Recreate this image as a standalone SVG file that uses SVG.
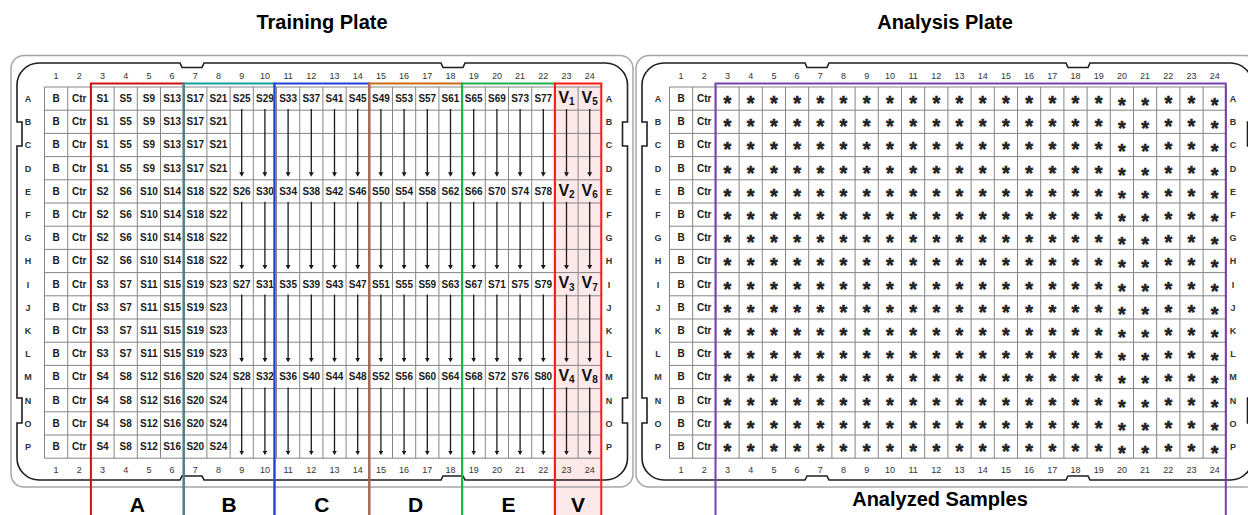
<svg xmlns="http://www.w3.org/2000/svg" xmlns:xlink="http://www.w3.org/1999/xlink" width="1248" height="515" viewBox="0 0 1248 515">
<style>
text{font-family:"Liberation Sans",Arial,Helvetica,sans-serif}
.title{font-size:20px;font-weight:bold;text-anchor:middle;fill:#000}
.cell{font-size:10px;font-weight:bold;text-anchor:middle;fill:#1a1a1a}
.num{font-size:9px;text-anchor:middle;fill:#333}
.rl{font-size:9px;font-weight:bold;text-anchor:middle;fill:#333}
.v{font-size:16px;font-weight:bold;text-anchor:middle;fill:#111}
.ast{font-size:20px;font-weight:bold;text-anchor:middle;fill:#222;stroke:#222;stroke-width:0.5}
.grp{font-size:21px;font-weight:bold;text-anchor:middle;fill:#000}
.grid{fill:none;stroke:#858585;stroke-width:1}
.outer{fill:none;stroke:#a6a6a6;stroke-width:1.5}
.inner{fill:none;stroke:#1e1e1e;stroke-width:1.6}
.box{fill:none;stroke-width:2}
.arr{fill:none;stroke:#1a1a1a;stroke-width:1.3;marker-end:url(#ah)}
</style>
<defs>
<marker id="ah" viewBox="0 0 10 10" refX="7" refY="5" markerWidth="4.5" markerHeight="5" markerUnits="userSpaceOnUse" orient="auto" preserveAspectRatio="none"><path d="M0,0L10,5L0,10Z" fill="#1a1a1a"/></marker>
<path id="gridp" class="grid" d="M44.5 87H601.3M44.5 110.2H601.3M44.5 133.4H601.3M44.5 156.6H601.3M44.5 179.8H601.3M44.5 203H601.3M44.5 226.2H601.3M44.5 249.4H601.3M44.5 272.6H601.3M44.5 295.8H601.3M44.5 319H601.3M44.5 342.2H601.3M44.5 365.4H601.3M44.5 388.6H601.3M44.5 411.8H601.3M44.5 435H601.3M44.5 458.2H601.3M44.5 87V458.2M67.7 87V458.2M90.9 87V458.2M114.1 87V458.2M137.3 87V458.2M160.5 87V458.2M183.7 87V458.2M206.9 87V458.2M230.1 87V458.2M253.3 87V458.2M276.5 87V458.2M299.7 87V458.2M322.9 87V458.2M346.1 87V458.2M369.3 87V458.2M392.5 87V458.2M415.7 87V458.2M438.9 87V458.2M462.1 87V458.2M485.3 87V458.2M508.5 87V458.2M531.7 87V458.2M554.9 87V458.2M578.1 87V458.2M601.3 87V458.2"/>
<path id="plateIn" class="inner" d="M39,63H180L182,67.5H202L204,63H441L443,67.5H463L465,63H605.5A22,22 0 0 1 627.5,85V122H622.5V146H627.5V398H622.5V423H627.5V458A22,22 0 0 1 605.5,480H465L463,476H443L441,480H204L202,476H182L180,480H39A22,22 0 0 1 17,458V423H22V398H17V146H22V122H17V85A22,22 0 0 1 39,63Z"/>
<rect id="plateOut" class="outer" x="11" y="55.5" width="622" height="431.5" rx="13"/>
</defs>

<g id="title-training"><text class="title" x="322" y="29">Training Plate</text></g>
<g id="title-analysis"><text class="title" x="945" y="29">Analysis Plate</text></g>

<rect id="v-fill" x="554.9" y="83.5" width="46.4" height="432" fill="#fde9e9"/>

<g id="training-plate">
<use href="#plateOut"/>
<use href="#plateIn"/>
<use href="#gridp"/>
<text class="num" y="78.5"><tspan x="56.1">1</tspan><tspan x="79.3">2</tspan><tspan x="102.5">3</tspan><tspan x="125.7">4</tspan><tspan x="148.9">5</tspan><tspan x="172.1">6</tspan><tspan x="195.3">7</tspan><tspan x="218.5">8</tspan><tspan x="241.7">9</tspan><tspan x="264.9">10</tspan><tspan x="288.1">11</tspan><tspan x="311.3">12</tspan><tspan x="334.5">13</tspan><tspan x="357.7">14</tspan><tspan x="380.9">15</tspan><tspan x="404.1">16</tspan><tspan x="427.3">17</tspan><tspan x="450.5">18</tspan><tspan x="473.7">19</tspan><tspan x="496.9">20</tspan><tspan x="520.1">21</tspan><tspan x="543.3">22</tspan><tspan x="566.5">23</tspan><tspan x="589.7">24</tspan></text>
<text class="num" y="472.5"><tspan x="56.1">1</tspan><tspan x="79.3">2</tspan><tspan x="102.5">3</tspan><tspan x="125.7">4</tspan><tspan x="148.9">5</tspan><tspan x="172.1">6</tspan><tspan x="195.3">7</tspan><tspan x="218.5">8</tspan><tspan x="241.7">9</tspan><tspan x="264.9">10</tspan><tspan x="288.1">11</tspan><tspan x="311.3">12</tspan><tspan x="334.5">13</tspan><tspan x="357.7">14</tspan><tspan x="380.9">15</tspan><tspan x="404.1">16</tspan><tspan x="427.3">17</tspan><tspan x="450.5">18</tspan><tspan x="473.7">19</tspan><tspan x="496.9">20</tspan><tspan x="520.1">21</tspan><tspan x="543.3">22</tspan><tspan x="566.5">23</tspan><tspan x="589.7">24</tspan></text>
<text class="rl"><tspan x="28" y="102">A</tspan><tspan x="28" y="125.2">B</tspan><tspan x="28" y="148.4">C</tspan><tspan x="28" y="171.6">D</tspan><tspan x="28" y="194.8">E</tspan><tspan x="28" y="218">F</tspan><tspan x="28" y="241.2">G</tspan><tspan x="28" y="264.4">H</tspan><tspan x="28" y="287.6">I</tspan><tspan x="28" y="310.8">J</tspan><tspan x="28" y="334">K</tspan><tspan x="28" y="357.2">L</tspan><tspan x="28" y="380.4">M</tspan><tspan x="28" y="403.6">N</tspan><tspan x="28" y="426.8">O</tspan><tspan x="28" y="450">P</tspan></text>
<text class="rl"><tspan x="609" y="102">A</tspan><tspan x="609" y="125.2">B</tspan><tspan x="609" y="148.4">C</tspan><tspan x="609" y="171.6">D</tspan><tspan x="609" y="194.8">E</tspan><tspan x="609" y="218">F</tspan><tspan x="609" y="241.2">G</tspan><tspan x="609" y="264.4">H</tspan><tspan x="609" y="287.6">I</tspan><tspan x="609" y="310.8">J</tspan><tspan x="609" y="334">K</tspan><tspan x="609" y="357.2">L</tspan><tspan x="609" y="380.4">M</tspan><tspan x="609" y="403.6">N</tspan><tspan x="609" y="426.8">O</tspan><tspan x="609" y="450">P</tspan></text>
<text class="cell" y="102"><tspan x="56.1">B</tspan><tspan x="79.3">Ctr</tspan><tspan x="102.5">S1</tspan><tspan x="125.7">S5</tspan><tspan x="148.9">S9</tspan><tspan x="172.1">S13</tspan><tspan x="195.3">S17</tspan><tspan x="218.5">S21</tspan><tspan x="241.7">S25</tspan><tspan x="264.9">S29</tspan><tspan x="288.1">S33</tspan><tspan x="311.3">S37</tspan><tspan x="334.5">S41</tspan><tspan x="357.7">S45</tspan><tspan x="380.9">S49</tspan><tspan x="404.1">S53</tspan><tspan x="427.3">S57</tspan><tspan x="450.5">S61</tspan><tspan x="473.7">S65</tspan><tspan x="496.9">S69</tspan><tspan x="520.1">S73</tspan><tspan x="543.3">S77</tspan></text>
<text class="cell" y="125.2"><tspan x="56.1">B</tspan><tspan x="79.3">Ctr</tspan><tspan x="102.5">S1</tspan><tspan x="125.7">S5</tspan><tspan x="148.9">S9</tspan><tspan x="172.1">S13</tspan><tspan x="195.3">S17</tspan><tspan x="218.5">S21</tspan></text>
<text class="cell" y="148.4"><tspan x="56.1">B</tspan><tspan x="79.3">Ctr</tspan><tspan x="102.5">S1</tspan><tspan x="125.7">S5</tspan><tspan x="148.9">S9</tspan><tspan x="172.1">S13</tspan><tspan x="195.3">S17</tspan><tspan x="218.5">S21</tspan></text>
<text class="cell" y="171.6"><tspan x="56.1">B</tspan><tspan x="79.3">Ctr</tspan><tspan x="102.5">S1</tspan><tspan x="125.7">S5</tspan><tspan x="148.9">S9</tspan><tspan x="172.1">S13</tspan><tspan x="195.3">S17</tspan><tspan x="218.5">S21</tspan></text>
<text class="cell" y="194.8"><tspan x="56.1">B</tspan><tspan x="79.3">Ctr</tspan><tspan x="102.5">S2</tspan><tspan x="125.7">S6</tspan><tspan x="148.9">S10</tspan><tspan x="172.1">S14</tspan><tspan x="195.3">S18</tspan><tspan x="218.5">S22</tspan><tspan x="241.7">S26</tspan><tspan x="264.9">S30</tspan><tspan x="288.1">S34</tspan><tspan x="311.3">S38</tspan><tspan x="334.5">S42</tspan><tspan x="357.7">S46</tspan><tspan x="380.9">S50</tspan><tspan x="404.1">S54</tspan><tspan x="427.3">S58</tspan><tspan x="450.5">S62</tspan><tspan x="473.7">S66</tspan><tspan x="496.9">S70</tspan><tspan x="520.1">S74</tspan><tspan x="543.3">S78</tspan></text>
<text class="cell" y="218"><tspan x="56.1">B</tspan><tspan x="79.3">Ctr</tspan><tspan x="102.5">S2</tspan><tspan x="125.7">S6</tspan><tspan x="148.9">S10</tspan><tspan x="172.1">S14</tspan><tspan x="195.3">S18</tspan><tspan x="218.5">S22</tspan></text>
<text class="cell" y="241.2"><tspan x="56.1">B</tspan><tspan x="79.3">Ctr</tspan><tspan x="102.5">S2</tspan><tspan x="125.7">S6</tspan><tspan x="148.9">S10</tspan><tspan x="172.1">S14</tspan><tspan x="195.3">S18</tspan><tspan x="218.5">S22</tspan></text>
<text class="cell" y="264.4"><tspan x="56.1">B</tspan><tspan x="79.3">Ctr</tspan><tspan x="102.5">S2</tspan><tspan x="125.7">S6</tspan><tspan x="148.9">S10</tspan><tspan x="172.1">S14</tspan><tspan x="195.3">S18</tspan><tspan x="218.5">S22</tspan></text>
<text class="cell" y="287.6"><tspan x="56.1">B</tspan><tspan x="79.3">Ctr</tspan><tspan x="102.5">S3</tspan><tspan x="125.7">S7</tspan><tspan x="148.9">S11</tspan><tspan x="172.1">S15</tspan><tspan x="195.3">S19</tspan><tspan x="218.5">S23</tspan><tspan x="241.7">S27</tspan><tspan x="264.9">S31</tspan><tspan x="288.1">S35</tspan><tspan x="311.3">S39</tspan><tspan x="334.5">S43</tspan><tspan x="357.7">S47</tspan><tspan x="380.9">S51</tspan><tspan x="404.1">S55</tspan><tspan x="427.3">S59</tspan><tspan x="450.5">S63</tspan><tspan x="473.7">S67</tspan><tspan x="496.9">S71</tspan><tspan x="520.1">S75</tspan><tspan x="543.3">S79</tspan></text>
<text class="cell" y="310.8"><tspan x="56.1">B</tspan><tspan x="79.3">Ctr</tspan><tspan x="102.5">S3</tspan><tspan x="125.7">S7</tspan><tspan x="148.9">S11</tspan><tspan x="172.1">S15</tspan><tspan x="195.3">S19</tspan><tspan x="218.5">S23</tspan></text>
<text class="cell" y="334"><tspan x="56.1">B</tspan><tspan x="79.3">Ctr</tspan><tspan x="102.5">S3</tspan><tspan x="125.7">S7</tspan><tspan x="148.9">S11</tspan><tspan x="172.1">S15</tspan><tspan x="195.3">S19</tspan><tspan x="218.5">S23</tspan></text>
<text class="cell" y="357.2"><tspan x="56.1">B</tspan><tspan x="79.3">Ctr</tspan><tspan x="102.5">S3</tspan><tspan x="125.7">S7</tspan><tspan x="148.9">S11</tspan><tspan x="172.1">S15</tspan><tspan x="195.3">S19</tspan><tspan x="218.5">S23</tspan></text>
<text class="cell" y="380.4"><tspan x="56.1">B</tspan><tspan x="79.3">Ctr</tspan><tspan x="102.5">S4</tspan><tspan x="125.7">S8</tspan><tspan x="148.9">S12</tspan><tspan x="172.1">S16</tspan><tspan x="195.3">S20</tspan><tspan x="218.5">S24</tspan><tspan x="241.7">S28</tspan><tspan x="264.9">S32</tspan><tspan x="288.1">S36</tspan><tspan x="311.3">S40</tspan><tspan x="334.5">S44</tspan><tspan x="357.7">S48</tspan><tspan x="380.9">S52</tspan><tspan x="404.1">S56</tspan><tspan x="427.3">S60</tspan><tspan x="450.5">S64</tspan><tspan x="473.7">S68</tspan><tspan x="496.9">S72</tspan><tspan x="520.1">S76</tspan><tspan x="543.3">S80</tspan></text>
<text class="cell" y="403.6"><tspan x="56.1">B</tspan><tspan x="79.3">Ctr</tspan><tspan x="102.5">S4</tspan><tspan x="125.7">S8</tspan><tspan x="148.9">S12</tspan><tspan x="172.1">S16</tspan><tspan x="195.3">S20</tspan><tspan x="218.5">S24</tspan></text>
<text class="cell" y="426.8"><tspan x="56.1">B</tspan><tspan x="79.3">Ctr</tspan><tspan x="102.5">S4</tspan><tspan x="125.7">S8</tspan><tspan x="148.9">S12</tspan><tspan x="172.1">S16</tspan><tspan x="195.3">S20</tspan><tspan x="218.5">S24</tspan></text>
<text class="cell" y="450"><tspan x="56.1">B</tspan><tspan x="79.3">Ctr</tspan><tspan x="102.5">S4</tspan><tspan x="125.7">S8</tspan><tspan x="148.9">S12</tspan><tspan x="172.1">S16</tspan><tspan x="195.3">S20</tspan><tspan x="218.5">S24</tspan></text>
<text class="v" x="566.5" y="102.7">V<tspan font-size="10" dy="2.3">1</tspan></text>
<text class="v" x="589.7" y="102.7">V<tspan font-size="10" dy="2.3">5</tspan></text>
<text class="v" x="566.5" y="195.5">V<tspan font-size="10" dy="2.3">2</tspan></text>
<text class="v" x="589.7" y="195.5">V<tspan font-size="10" dy="2.3">6</tspan></text>
<text class="v" x="566.5" y="288.3">V<tspan font-size="10" dy="2.3">3</tspan></text>
<text class="v" x="589.7" y="288.3">V<tspan font-size="10" dy="2.3">7</tspan></text>
<text class="v" x="566.5" y="381.1">V<tspan font-size="10" dy="2.3">4</tspan></text>
<text class="v" x="589.7" y="381.1">V<tspan font-size="10" dy="2.3">8</tspan></text>
</g>

<g id="analysis-plate">
<use href="#plateOut" x="625"/>
<use href="#plateIn" x="625"/>
<use href="#gridp" x="625"/>
<text class="num" y="78.5"><tspan x="681.1">1</tspan><tspan x="704.3">2</tspan><tspan x="727.5">3</tspan><tspan x="750.7">4</tspan><tspan x="773.9">5</tspan><tspan x="797.1">6</tspan><tspan x="820.3">7</tspan><tspan x="843.5">8</tspan><tspan x="866.7">9</tspan><tspan x="889.9">10</tspan><tspan x="913.1">11</tspan><tspan x="936.3">12</tspan><tspan x="959.5">13</tspan><tspan x="982.7">14</tspan><tspan x="1005.9">15</tspan><tspan x="1029.1">16</tspan><tspan x="1052.3">17</tspan><tspan x="1075.5">18</tspan><tspan x="1098.7">19</tspan><tspan x="1121.9">20</tspan><tspan x="1145.1">21</tspan><tspan x="1168.3">22</tspan><tspan x="1191.5">23</tspan><tspan x="1214.7">24</tspan></text>
<text class="num" y="472.5"><tspan x="681.1">1</tspan><tspan x="704.3">2</tspan><tspan x="727.5">3</tspan><tspan x="750.7">4</tspan><tspan x="773.9">5</tspan><tspan x="797.1">6</tspan><tspan x="820.3">7</tspan><tspan x="843.5">8</tspan><tspan x="866.7">9</tspan><tspan x="889.9">10</tspan><tspan x="913.1">11</tspan><tspan x="936.3">12</tspan><tspan x="959.5">13</tspan><tspan x="982.7">14</tspan><tspan x="1005.9">15</tspan><tspan x="1029.1">16</tspan><tspan x="1052.3">17</tspan><tspan x="1075.5">18</tspan><tspan x="1098.7">19</tspan><tspan x="1121.9">20</tspan><tspan x="1145.1">21</tspan><tspan x="1168.3">22</tspan><tspan x="1191.5">23</tspan><tspan x="1214.7">24</tspan></text>
<text class="rl"><tspan x="658" y="102">A</tspan><tspan x="658" y="125.2">B</tspan><tspan x="658" y="148.4">C</tspan><tspan x="658" y="171.6">D</tspan><tspan x="658" y="194.8">E</tspan><tspan x="658" y="218">F</tspan><tspan x="658" y="241.2">G</tspan><tspan x="658" y="264.4">H</tspan><tspan x="658" y="287.6">I</tspan><tspan x="658" y="310.8">J</tspan><tspan x="658" y="334">K</tspan><tspan x="658" y="357.2">L</tspan><tspan x="658" y="380.4">M</tspan><tspan x="658" y="403.6">N</tspan><tspan x="658" y="426.8">O</tspan><tspan x="658" y="450">P</tspan></text>
<text class="rl"><tspan x="1233" y="102">A</tspan><tspan x="1233" y="125.2">B</tspan><tspan x="1233" y="148.4">C</tspan><tspan x="1233" y="171.6">D</tspan><tspan x="1233" y="194.8">E</tspan><tspan x="1233" y="218">F</tspan><tspan x="1233" y="241.2">G</tspan><tspan x="1233" y="264.4">H</tspan><tspan x="1233" y="287.6">I</tspan><tspan x="1233" y="310.8">J</tspan><tspan x="1233" y="334">K</tspan><tspan x="1233" y="357.2">L</tspan><tspan x="1233" y="380.4">M</tspan><tspan x="1233" y="403.6">N</tspan><tspan x="1233" y="426.8">O</tspan><tspan x="1233" y="450">P</tspan></text>
<text class="cell" y="102"><tspan x="681.1">B</tspan><tspan x="704.3">Ctr</tspan></text>
<text class="cell" y="125.2"><tspan x="681.1">B</tspan><tspan x="704.3">Ctr</tspan></text>
<text class="cell" y="148.4"><tspan x="681.1">B</tspan><tspan x="704.3">Ctr</tspan></text>
<text class="cell" y="171.6"><tspan x="681.1">B</tspan><tspan x="704.3">Ctr</tspan></text>
<text class="cell" y="194.8"><tspan x="681.1">B</tspan><tspan x="704.3">Ctr</tspan></text>
<text class="cell" y="218"><tspan x="681.1">B</tspan><tspan x="704.3">Ctr</tspan></text>
<text class="cell" y="241.2"><tspan x="681.1">B</tspan><tspan x="704.3">Ctr</tspan></text>
<text class="cell" y="264.4"><tspan x="681.1">B</tspan><tspan x="704.3">Ctr</tspan></text>
<text class="cell" y="287.6"><tspan x="681.1">B</tspan><tspan x="704.3">Ctr</tspan></text>
<text class="cell" y="310.8"><tspan x="681.1">B</tspan><tspan x="704.3">Ctr</tspan></text>
<text class="cell" y="334"><tspan x="681.1">B</tspan><tspan x="704.3">Ctr</tspan></text>
<text class="cell" y="357.2"><tspan x="681.1">B</tspan><tspan x="704.3">Ctr</tspan></text>
<text class="cell" y="380.4"><tspan x="681.1">B</tspan><tspan x="704.3">Ctr</tspan></text>
<text class="cell" y="403.6"><tspan x="681.1">B</tspan><tspan x="704.3">Ctr</tspan></text>
<text class="cell" y="426.8"><tspan x="681.1">B</tspan><tspan x="704.3">Ctr</tspan></text>
<text class="cell" y="450"><tspan x="681.1">B</tspan><tspan x="704.3">Ctr</tspan></text>
<text class="ast" x="727.5 750.7 773.9 797.1 820.3 843.5 866.7 889.9 913.1 936.3 959.5 982.7 1005.9 1029.1 1052.3 1075.5 1098.7 1121.9 1145.1 1168.3 1191.5 1214.7" y="110" dy="0 0 0 0 0 0 0 0 0 0 0 0 0 0 0 0 0 2 0 -2 0 2">**********************</text>
<text class="ast" x="727.5 750.7 773.9 797.1 820.3 843.5 866.7 889.9 913.1 936.3 959.5 982.7 1005.9 1029.1 1052.3 1075.5 1098.7 1121.9 1145.1 1168.3 1191.5 1214.7" y="133.2" dy="0 0 0 0 0 0 0 0 0 0 0 0 0 0 0 0 0 2 0 -2 0 2">**********************</text>
<text class="ast" x="727.5 750.7 773.9 797.1 820.3 843.5 866.7 889.9 913.1 936.3 959.5 982.7 1005.9 1029.1 1052.3 1075.5 1098.7 1121.9 1145.1 1168.3 1191.5 1214.7" y="156.4" dy="0 0 0 0 0 0 0 0 0 0 0 0 0 0 0 0 0 2 0 -2 0 2">**********************</text>
<text class="ast" x="727.5 750.7 773.9 797.1 820.3 843.5 866.7 889.9 913.1 936.3 959.5 982.7 1005.9 1029.1 1052.3 1075.5 1098.7 1121.9 1145.1 1168.3 1191.5 1214.7" y="179.6" dy="0 0 0 0 0 0 0 0 0 0 0 0 0 0 0 0 0 2 0 -2 0 2">**********************</text>
<text class="ast" x="727.5 750.7 773.9 797.1 820.3 843.5 866.7 889.9 913.1 936.3 959.5 982.7 1005.9 1029.1 1052.3 1075.5 1098.7 1121.9 1145.1 1168.3 1191.5 1214.7" y="202.8" dy="0 0 0 0 0 0 0 0 0 0 0 0 0 0 0 0 0 2 0 -2 0 2">**********************</text>
<text class="ast" x="727.5 750.7 773.9 797.1 820.3 843.5 866.7 889.9 913.1 936.3 959.5 982.7 1005.9 1029.1 1052.3 1075.5 1098.7 1121.9 1145.1 1168.3 1191.5 1214.7" y="226" dy="0 0 0 0 0 0 0 0 0 0 0 0 0 0 0 0 0 2 0 -2 0 2">**********************</text>
<text class="ast" x="727.5 750.7 773.9 797.1 820.3 843.5 866.7 889.9 913.1 936.3 959.5 982.7 1005.9 1029.1 1052.3 1075.5 1098.7 1121.9 1145.1 1168.3 1191.5 1214.7" y="249.2" dy="0 0 0 0 0 0 0 0 0 0 0 0 0 0 0 0 0 2 0 -2 0 2">**********************</text>
<text class="ast" x="727.5 750.7 773.9 797.1 820.3 843.5 866.7 889.9 913.1 936.3 959.5 982.7 1005.9 1029.1 1052.3 1075.5 1098.7 1121.9 1145.1 1168.3 1191.5 1214.7" y="272.4" dy="0 0 0 0 0 0 0 0 0 0 0 0 0 0 0 0 0 2 0 -2 0 2">**********************</text>
<text class="ast" x="727.5 750.7 773.9 797.1 820.3 843.5 866.7 889.9 913.1 936.3 959.5 982.7 1005.9 1029.1 1052.3 1075.5 1098.7 1121.9 1145.1 1168.3 1191.5 1214.7" y="295.6" dy="0 0 0 0 0 0 0 0 0 0 0 0 0 0 0 0 0 2 0 -2 0 2">**********************</text>
<text class="ast" x="727.5 750.7 773.9 797.1 820.3 843.5 866.7 889.9 913.1 936.3 959.5 982.7 1005.9 1029.1 1052.3 1075.5 1098.7 1121.9 1145.1 1168.3 1191.5 1214.7" y="318.8" dy="0 0 0 0 0 0 0 0 0 0 0 0 0 0 0 0 0 2 0 -2 0 2">**********************</text>
<text class="ast" x="727.5 750.7 773.9 797.1 820.3 843.5 866.7 889.9 913.1 936.3 959.5 982.7 1005.9 1029.1 1052.3 1075.5 1098.7 1121.9 1145.1 1168.3 1191.5 1214.7" y="342" dy="0 0 0 0 0 0 0 0 0 0 0 0 0 0 0 0 0 2 0 -2 0 2">**********************</text>
<text class="ast" x="727.5 750.7 773.9 797.1 820.3 843.5 866.7 889.9 913.1 936.3 959.5 982.7 1005.9 1029.1 1052.3 1075.5 1098.7 1121.9 1145.1 1168.3 1191.5 1214.7" y="365.2" dy="0 0 0 0 0 0 0 0 0 0 0 0 0 0 0 0 0 2 0 -2 0 2">**********************</text>
<text class="ast" x="727.5 750.7 773.9 797.1 820.3 843.5 866.7 889.9 913.1 936.3 959.5 982.7 1005.9 1029.1 1052.3 1075.5 1098.7 1121.9 1145.1 1168.3 1191.5 1214.7" y="388.4" dy="0 0 0 0 0 0 0 0 0 0 0 0 0 0 0 0 0 2 0 -2 0 2">**********************</text>
<text class="ast" x="727.5 750.7 773.9 797.1 820.3 843.5 866.7 889.9 913.1 936.3 959.5 982.7 1005.9 1029.1 1052.3 1075.5 1098.7 1121.9 1145.1 1168.3 1191.5 1214.7" y="411.6" dy="0 0 0 0 0 0 0 0 0 0 0 0 0 0 0 0 0 2 0 -2 0 2">**********************</text>
<text class="ast" x="727.5 750.7 773.9 797.1 820.3 843.5 866.7 889.9 913.1 936.3 959.5 982.7 1005.9 1029.1 1052.3 1075.5 1098.7 1121.9 1145.1 1168.3 1191.5 1214.7" y="434.8" dy="0 0 0 0 0 0 0 0 0 0 0 0 0 0 0 0 0 2 0 -2 0 2">**********************</text>
<text class="ast" x="727.5 750.7 773.9 797.1 820.3 843.5 866.7 889.9 913.1 936.3 959.5 982.7 1005.9 1029.1 1052.3 1075.5 1098.7 1121.9 1145.1 1168.3 1191.5 1214.7" y="458" dy="0 0 0 0 0 0 0 0 0 0 0 0 0 0 0 0 0 2 0 -2 0 2">**********************</text>
</g>

<g id="connectors">
<path class="arr" d="M241.7 109V175.3"/><path class="arr" d="M264.9 109V175.3"/><path class="arr" d="M288.1 109V175.3"/><path class="arr" d="M311.3 109V175.3"/><path class="arr" d="M334.5 109V175.3"/><path class="arr" d="M357.7 109V175.3"/><path class="arr" d="M380.9 109V175.3"/><path class="arr" d="M404.1 109V175.3"/><path class="arr" d="M427.3 109V175.3"/><path class="arr" d="M450.5 109V175.3"/><path class="arr" d="M473.7 109V175.3"/><path class="arr" d="M496.9 109V175.3"/><path class="arr" d="M520.1 109V175.3"/><path class="arr" d="M543.3 109V175.3"/><path class="arr" d="M566.5 109V175.3"/><path class="arr" d="M589.7 109V175.3"/>
<path class="arr" d="M241.7 201.8V268.1"/><path class="arr" d="M264.9 201.8V268.1"/><path class="arr" d="M288.1 201.8V268.1"/><path class="arr" d="M311.3 201.8V268.1"/><path class="arr" d="M334.5 201.8V268.1"/><path class="arr" d="M357.7 201.8V268.1"/><path class="arr" d="M380.9 201.8V268.1"/><path class="arr" d="M404.1 201.8V268.1"/><path class="arr" d="M427.3 201.8V268.1"/><path class="arr" d="M450.5 201.8V268.1"/><path class="arr" d="M473.7 201.8V268.1"/><path class="arr" d="M496.9 201.8V268.1"/><path class="arr" d="M520.1 201.8V268.1"/><path class="arr" d="M543.3 201.8V268.1"/><path class="arr" d="M566.5 201.8V268.1"/><path class="arr" d="M589.7 201.8V268.1"/>
<path class="arr" d="M241.7 294.6V360.9"/><path class="arr" d="M264.9 294.6V360.9"/><path class="arr" d="M288.1 294.6V360.9"/><path class="arr" d="M311.3 294.6V360.9"/><path class="arr" d="M334.5 294.6V360.9"/><path class="arr" d="M357.7 294.6V360.9"/><path class="arr" d="M380.9 294.6V360.9"/><path class="arr" d="M404.1 294.6V360.9"/><path class="arr" d="M427.3 294.6V360.9"/><path class="arr" d="M450.5 294.6V360.9"/><path class="arr" d="M473.7 294.6V360.9"/><path class="arr" d="M496.9 294.6V360.9"/><path class="arr" d="M520.1 294.6V360.9"/><path class="arr" d="M543.3 294.6V360.9"/><path class="arr" d="M566.5 294.6V360.9"/><path class="arr" d="M589.7 294.6V360.9"/>
<path class="arr" d="M241.7 387.4V453.7"/><path class="arr" d="M264.9 387.4V453.7"/><path class="arr" d="M288.1 387.4V453.7"/><path class="arr" d="M311.3 387.4V453.7"/><path class="arr" d="M334.5 387.4V453.7"/><path class="arr" d="M357.7 387.4V453.7"/><path class="arr" d="M380.9 387.4V453.7"/><path class="arr" d="M404.1 387.4V453.7"/><path class="arr" d="M427.3 387.4V453.7"/><path class="arr" d="M450.5 387.4V453.7"/><path class="arr" d="M473.7 387.4V453.7"/><path class="arr" d="M496.9 387.4V453.7"/><path class="arr" d="M520.1 387.4V453.7"/><path class="arr" d="M543.3 387.4V453.7"/><path class="arr" d="M566.5 387.4V453.7"/><path class="arr" d="M589.7 387.4V453.7"/>
</g>

<g id="group-A"><path class="box" stroke="#cc1111" d="M90.9,516V83.5H183.7V516"/><text class="grp" x="137.3" y="511.5">A</text></g>
<g id="group-B"><path class="box" stroke="#179c9c" d="M183.7,516V83.5H274.5V516"/><text class="grp" x="229.1" y="511.5">B</text></g>
<g id="group-C"><path class="box" stroke="#2040d8" d="M274.5,516V83.5H369.3V516"/><text class="grp" x="321.9" y="511.5">C</text></g>
<g id="group-D"><path class="box" stroke="#cc6a14" d="M369.3,516V83.5H462.1V516"/><text class="grp" x="415.7" y="511.5">D</text></g>
<g id="group-E"><path class="box" stroke="#20b04a" d="M462.1,516V83.5H554.9V516"/><text class="grp" x="508.5" y="511.5">E</text></g>
<g id="group-V"><path class="box" stroke="#ff1a1a" stroke-width="3" d="M554.9,516V83.5H601.3V516"/><text class="grp" x="578.1" y="511.5">V</text></g>
<g id="analyzed-samples"><path class="box" stroke="#7a3fb0" d="M715.5,516V83.5H1225.8V516"/><text class="title" x="940" y="506">Analyzed Samples</text></g>
</svg>
